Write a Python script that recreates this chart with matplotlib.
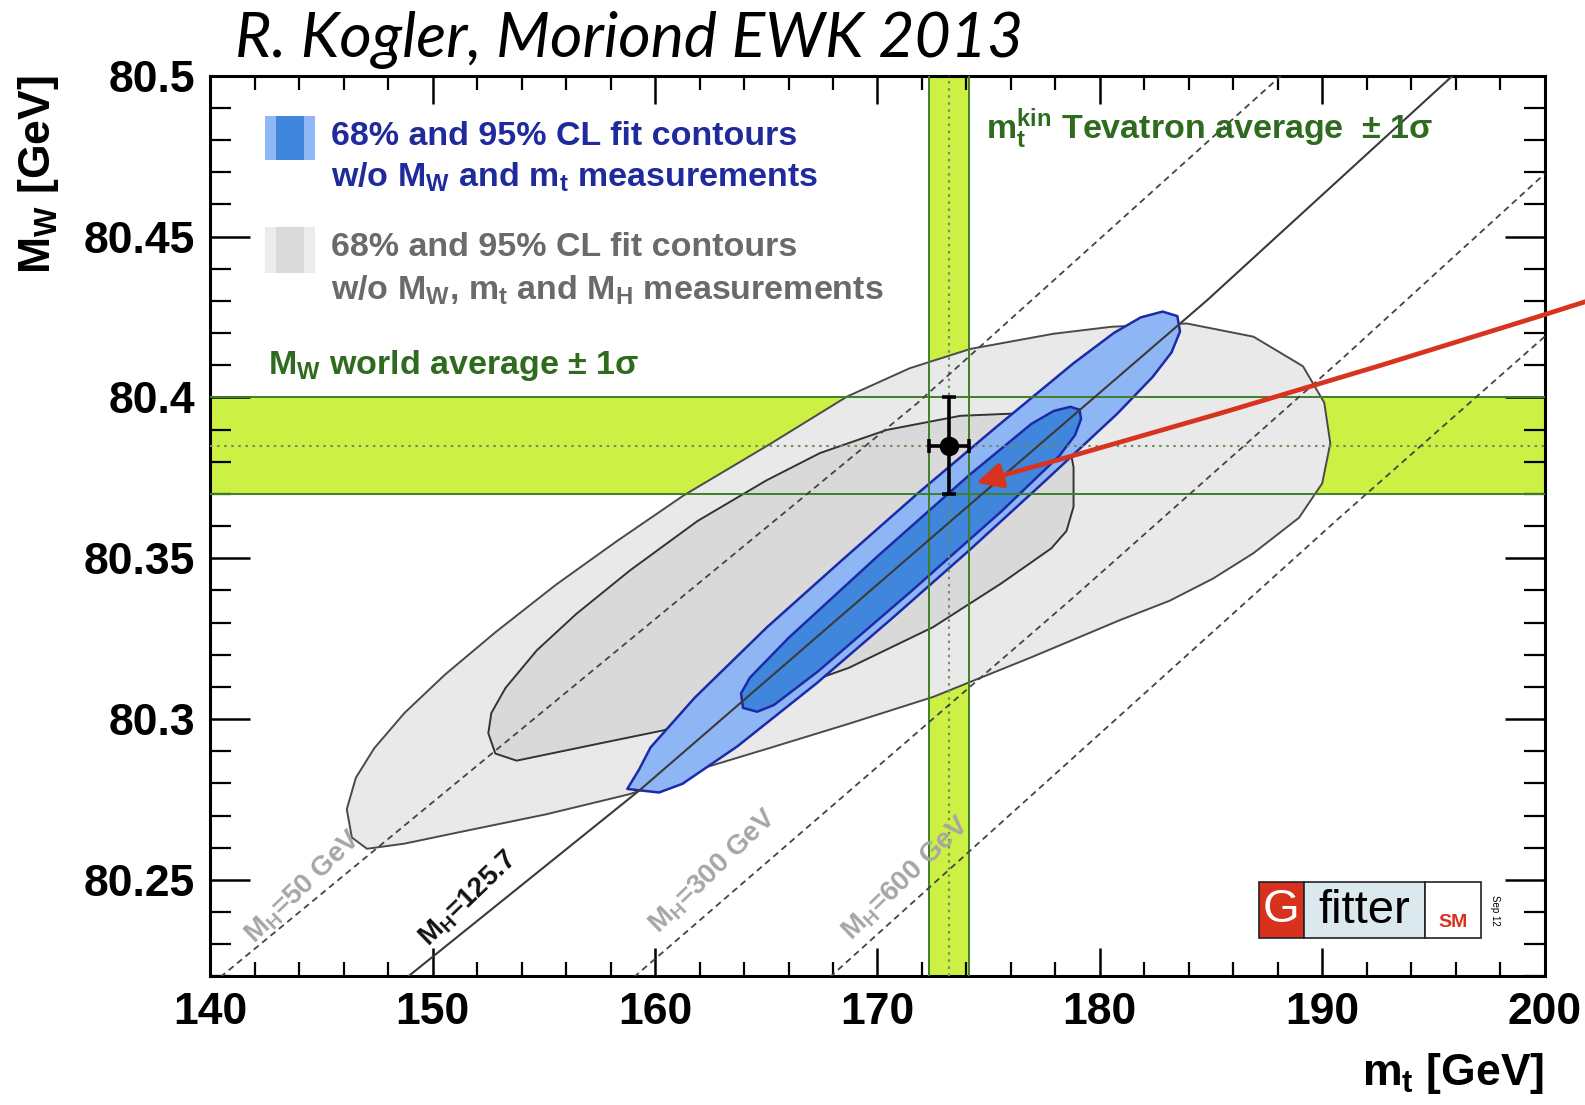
import matplotlib
matplotlib.use("Agg")
import matplotlib.pyplot as plt
from matplotlib.patches import Polygon, Rectangle
from matplotlib.ticker import MultipleLocator, FuncFormatter

plt.rcParams['font.family'] = ['Liberation Sans', 'DejaVu Sans']
plt.rcParams['mathtext.fontset'] = 'custom'
plt.rcParams['mathtext.rm'] = 'Liberation Sans'
plt.rcParams['mathtext.bf'] = 'Liberation Sans:bold'
plt.rcParams['mathtext.it'] = 'Liberation Sans:italic'

# ---- measurements -------------------------------------------------------
mw_avg, mw_err = 80.385, 0.015      # M_W world average
mt_avg, mt_err = 173.2, 0.9         # m_t Tevatron average

# ---- SM iso-M_H lines (m_t [GeV], M_W [GeV]) ---------------------------
mh50_mt = [140.45, 171.77, 188.14]
mh50_mw = [80.2198, 80.3981, 80.5]
mh126_mt = [148.86, 159.32, 173.2, 184.82, 195.86]
mh126_mw = [80.2198, 80.278, 80.361, 80.4302, 80.5]
mh300_mt = [159.05, 178.64, 190.82, 197.23, 200.0]
mh300_mw = [80.2198, 80.3368, 80.4116, 80.452, 80.4695]
mh600_mt = [167.86, 190.82, 200.0]
mh600_mw = [80.2198, 80.3629, 80.4189]

# ---- fit contours without M_W, m_t and M_H (95% and 68% CL) --------------
gray95_mt = [146.136, 146.545, 147.364, 148.727, 150.545, 152.818, 155.545,
             158.273, 161.273, 165.091, 168.636, 171.455, 174.182, 177.909,
             180.545, 183.909, 186.909, 189.136, 190.091, 190.364, 190.0,
             188.955, 186.909, 185.091, 183.136, 180.909, 176.909, 172.5,
             168.773, 165.091, 162.364, 158.864, 155.091, 151.364, 148.727,
             147.045, 146.364]
gray95_mw = [80.2720, 80.2818, 80.2909, 80.3019, 80.3138, 80.3270, 80.3418,
             80.3553, 80.3695, 80.3852, 80.4003, 80.4091, 80.4151, 80.4198,
             80.4220, 80.4230, 80.4189, 80.4097, 80.3984, 80.3858, 80.3733,
             80.3626, 80.3516, 80.3437, 80.3368, 80.3308, 80.3192, 80.3069,
             80.2987, 80.2909, 80.2852, 80.2767, 80.2704, 80.2651, 80.2613,
             80.2597, 80.2632]
gray68_mt = [152.5, 152.636, 153.273, 154.682, 156.455, 158.864, 161.909,
             165.0, 167.409, 170.409, 173.727, 176.136, 177.818, 178.545,
             178.818, 178.818, 178.5, 177.818, 175.545, 172.5, 168.727,
             165.045, 160.364, 157.545, 153.773, 152.818]
gray68_mw = [80.2956, 80.3019, 80.3097, 80.3214, 80.3327, 80.3462, 80.3616,
             80.3742, 80.3827, 80.3899, 80.3943, 80.3950, 80.3937, 80.3884,
             80.3783, 80.3660, 80.3585, 80.3531, 80.3421, 80.3286, 80.3160,
             80.3069, 80.2965, 80.2925, 80.2871, 80.2893]

# ---- fit contours without M_W and m_t (95% and 68% CL) -------------------
blue95_mt = [158.75, 160.177, 161.232, 163.691, 167.255, 170.700, 174.114,
             177.468, 180.791, 182.377, 183.223, 183.605, 183.486, 182.823,
             181.841, 180.641, 178.809, 175.305, 171.832, 168.418, 165.036,
             161.773, 159.795, 159.277]
blue95_mw = [80.2783, 80.2772, 80.2799, 80.2915, 80.3111, 80.3316, 80.3524,
             80.3736, 80.3950, 80.4064, 80.4140, 80.4205, 80.4253, 80.4267,
             80.4249, 80.4201, 80.4106, 80.3906, 80.3703, 80.3495, 80.3286,
             80.3066, 80.2912, 80.2843]
blue68_mt = [163.955, 164.591, 165.345, 167.336, 171.477, 175.559, 178.186,
             178.886, 179.155, 179.086, 178.673, 177.923, 176.923, 174.114,
             170.032, 166.009, 164.264, 163.864]
blue68_mw = [80.3035, 80.3023, 80.3044, 80.3149, 80.3395, 80.3645, 80.3819,
             80.3883, 80.3933, 80.3962, 80.3971, 80.3958, 80.3918, 80.3758,
             80.3508, 80.3253, 80.3129, 80.3080]

xticks = [140, 150, 160, 170, 180, 190, 200]
yticks = [80.25, 80.3, 80.35, 80.4, 80.45, 80.5]

# ---- colours ------------------------------------------------------------
band_fill = '#ccf044'
band_edge = '#3f7f2a'
gray_light, gray_dark = '#e9e9e9', '#d9d9d9'
blue_light, blue_dark = '#8fb6f4', '#3f86dc'
blue_edge = '#1c2aa8'
green_txt = '#2e6b1e'
blue_txt = '#1f2a9c'
gray_txt = '#6a6a6a'

fig = plt.figure(figsize=(15.85, 11.05), dpi=100)
ax = fig.add_axes([0.1327, 0.1163, 0.8418, 0.8151])
ax.set_xlim(140, 200)
ax.set_ylim(80.22, 80.5)

# measurement bands
ax.axhspan(mw_avg - mw_err, mw_avg + mw_err, color=band_fill, lw=0, zorder=1)
ax.axvspan(mt_avg - mt_err, mt_avg + mt_err, color=band_fill, lw=0, zorder=1)

# fit contours
def contour(xs, ys, fc, ec, lw, z):
    ax.add_patch(Polygon(list(zip(xs, ys)), closed=True, facecolor=fc,
                         edgecolor=ec, lw=lw, joinstyle='round', zorder=z))

contour(gray95_mt, gray95_mw, gray_light, '#4a4a4a', 1.4, 2)
contour(gray68_mt, gray68_mw, gray_dark, '#333333', 1.4, 3)
contour(blue95_mt, blue95_mw, blue_light, blue_edge, 1.8, 4)
contour(blue68_mt, blue68_mw, blue_dark, blue_edge, 1.8, 5)

# band edges and centres
for v in (mw_avg - mw_err, mw_avg + mw_err):
    ax.axhline(v, color=band_edge, lw=1.4, zorder=6)
for v in (mt_avg - mt_err, mt_avg + mt_err):
    ax.axvline(v, color=band_edge, lw=1.4, zorder=6)
ax.axhline(mw_avg, color='#6f8f5f', lw=1.5, ls=(0, (1.2, 2.2)), zorder=6)
ax.axvline(mt_avg, color='#6f8f5f', lw=1.5, ls=(0, (1.2, 2.2)), zorder=6)

# iso-M_H lines
dash = (0, (3.5, 2.5))
ax.plot(mh50_mt, mh50_mw, color='#444444', lw=1.3, ls=dash, zorder=7)
ax.plot(mh126_mt, mh126_mw, color='#3a3a3a', lw=1.5, zorder=7)
ax.plot(mh300_mt, mh300_mw, color='#444444', lw=1.3, ls=dash, zorder=7)
ax.plot(mh600_mt, mh600_mw, color='#444444', lw=1.3, ls=dash, zorder=7)

lab_kw = dict(rotation=44, rotation_mode='anchor', ha='center', va='center',
              fontsize=20, fontweight='bold', zorder=8)
ax.text(144.2, 80.2478, r'M$_\mathbf{H}$=50 GeV', color='#a6a6a6', **lab_kw)
ax.text(151.6, 80.2440, r'M$_\mathbf{H}$=125.7', color='#111111', **lab_kw)
ax.text(162.6, 80.2525, r'M$_\mathbf{H}$=300 GeV', color='#a6a6a6', **lab_kw)
ax.text(171.3, 80.2506, r'M$_\mathbf{H}$=600 GeV', color='#a6a6a6', **lab_kw)

# measured point
ax.errorbar([mt_avg], [mw_avg], xerr=[mt_err], yerr=[mw_err], fmt='o',
            color='black', ms=13, elinewidth=2.6, capsize=5, capthick=2.6,
            zorder=9)

# arrow pointing at the SM fit
ax.annotate('', xy=(174.45, 80.3735), xytext=(203.3, 80.433),
            arrowprops=dict(arrowstyle='-|>', color='#d7331f', lw=3.4,
                            mutation_scale=38, shrinkA=0, shrinkB=0,
                            connectionstyle='arc3,rad=-0.01'),
            annotation_clip=False, zorder=10)

# legend
T = ax.transAxes
def swatch(y0, y1, c_out, c_in):
    ax.add_patch(Rectangle((0.0409, y0), 0.0379, y1 - y0, transform=T,
                           facecolor=c_out, lw=0, zorder=11))
    ax.add_patch(Rectangle((0.0492, y0), 0.0212, y1 - y0, transform=T,
                           facecolor=c_in, lw=0, zorder=12))

swatch(0.9068, 0.9551, '#8fb8f4', '#3f86dc')
swatch(0.7811, 0.8316, '#ececec', '#dadada')

leg_kw = dict(transform=T, fontsize=24.5, fontweight='bold', va='center',
              ha='left', zorder=12)
ax.text(0.0905, 0.9327, '68% and 95% CL fit contours', color=blue_txt, **leg_kw)
ax.text(0.0905, 0.8870, r'w/o M$_\mathbf{W}$ and m$_\mathbf{t}$ measurements',
        color=blue_txt, **leg_kw)
ax.text(0.0905, 0.8092, '68% and 95% CL fit contours', color=gray_txt, **leg_kw)
ax.text(0.0905, 0.7613,
        r'w/o M$_\mathbf{W}$, m$_\mathbf{t}$ and M$_\mathbf{H}$ measurements',
        color=gray_txt, **leg_kw)
ax.text(0.0432, 0.6779, r'M$_\mathbf{W}$ world average ± 1σ', color=green_txt,
        **leg_kw)
ax.text(0.5811, 0.9416, r'm$_\mathbf{t}^\mathbf{kin}$ Tevatron average  ± 1σ',
        color=green_txt, **leg_kw)

# Gfitter logo
ax.add_patch(Rectangle((0.7856, 0.0426), 0.0341, 0.0618, transform=T,
                       facecolor='#d8321f', edgecolor='#222222', lw=1.2,
                       zorder=12))
ax.add_patch(Rectangle((0.8197, 0.0426), 0.0909, 0.0618, transform=T,
                       facecolor='#dbe8ee', edgecolor='#222222', lw=1.2,
                       zorder=12))
ax.add_patch(Rectangle((0.9106, 0.0426), 0.0417, 0.0618, transform=T,
                       facecolor='white', edgecolor='#222222', lw=1.2,
                       zorder=12))
ax.text(0.8027, 0.0735, 'G', transform=T, color='white', fontsize=34,
        ha='center', va='center', zorder=13)
ax.text(0.8652, 0.0725, 'fitter', transform=T, color='black', fontsize=34,
        ha='center', va='center', zorder=13)
ax.text(0.9314, 0.0600, 'SM', transform=T, color='#d8321f', fontsize=14,
        fontweight='bold', ha='center', va='center', zorder=13)
ax.text(0.9625, 0.0735, 'Sep 12', transform=T, color='black', fontsize=7,
        rotation=-90, ha='center', va='center', zorder=13)

# axes styling
ax.set_xticks(xticks)
ax.set_yticks(yticks)
ax.xaxis.set_minor_locator(MultipleLocator(2))
ax.yaxis.set_minor_locator(MultipleLocator(0.01))
ax.yaxis.set_major_formatter(FuncFormatter(lambda v, p: f'{v:g}'))
ax.tick_params(axis='x', which='major', direction='in', length=20, width=1.8,
               top=True, labelsize=32, pad=11)
ax.tick_params(axis='x', which='minor', direction='in', length=10, width=1.6,
               top=True)
ax.tick_params(axis='y', which='major', direction='in', length=29, width=1.8,
               right=True, labelsize=32, pad=11)
ax.tick_params(axis='y', which='minor', direction='in', length=15, width=1.6,
               right=True)
for lab in ax.get_xticklabels() + ax.get_yticklabels():
    lab.set_fontweight('bold')
for s in ax.spines.values():
    s.set_linewidth(2.2)

ax.text(-0.1288, 1.0, r'M$_\mathbf{W}$ [GeV]', transform=T, rotation=90,
        ha='center', va='top', fontsize=32, fontweight='bold')
ax.text(1.0, -0.1077, r'm$_\mathbf{t}$ [GeV]', transform=T, ha='right',
        va='center', fontsize=32, fontweight='bold')

fig.text(0.148, 0.9634, 'R. Kogler, Moriond EWK 2013', fontsize=45,
         family=['Lato', 'DejaVu Sans'], style='italic', ha='left',
         va='center')

fig.savefig('out.png', dpi=100)
